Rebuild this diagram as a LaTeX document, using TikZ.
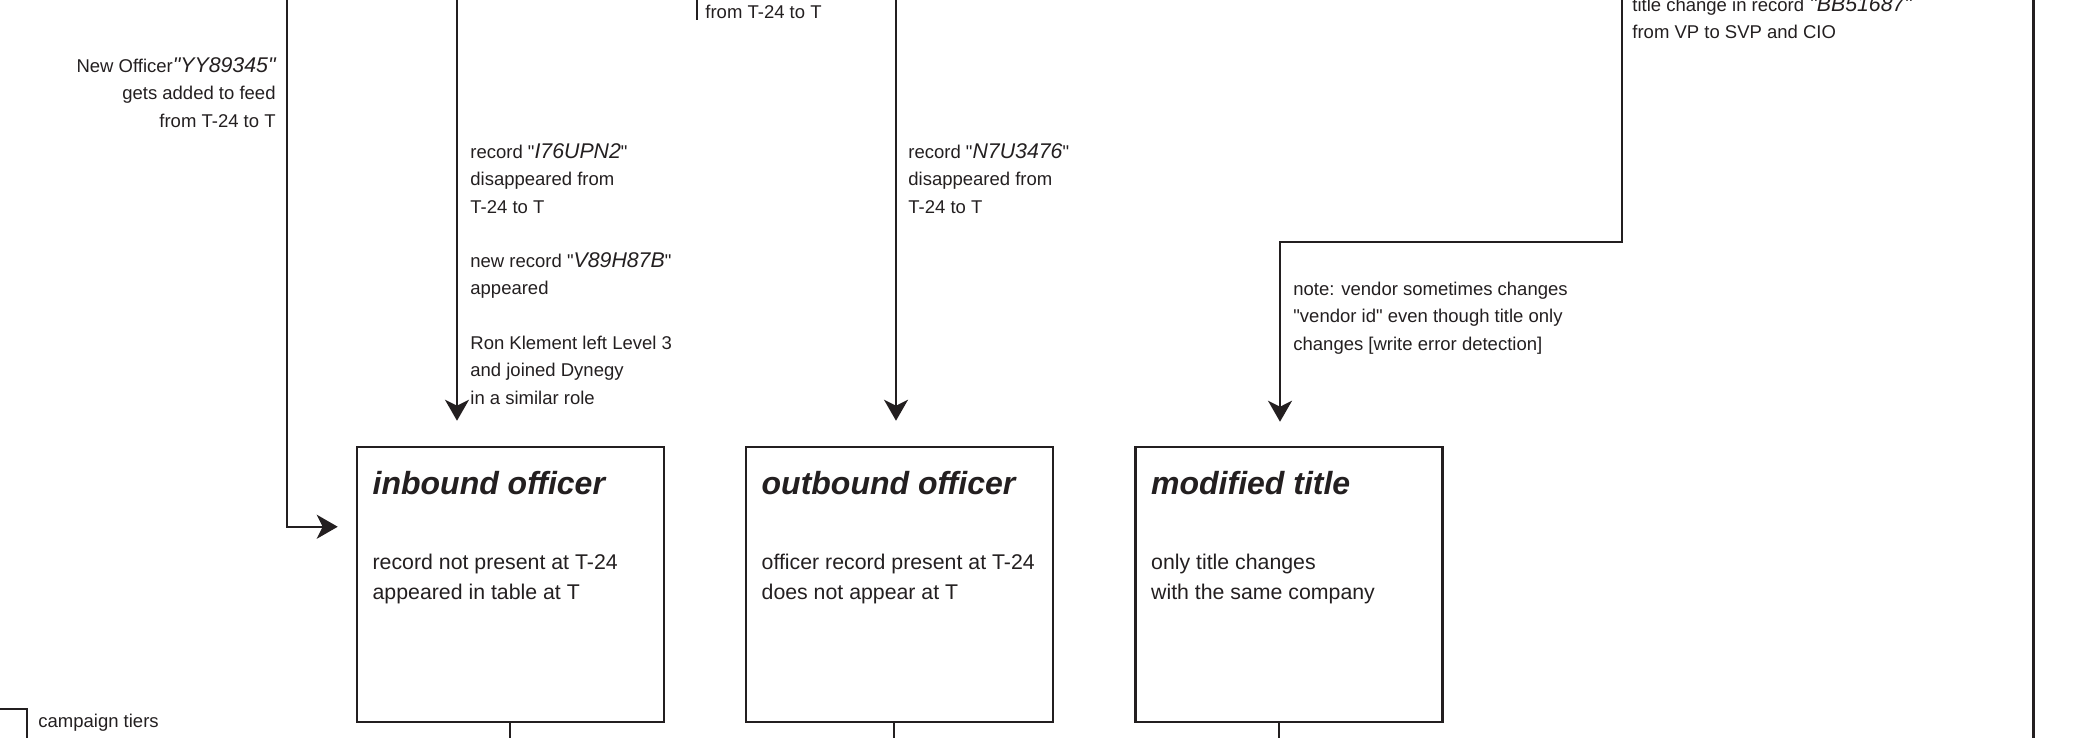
\documentclass[tikz,border=0pt]{standalone}
\usepackage{fontspec}
\setmainfont{Liberation Sans}[Ligatures=TeXOff]
\usetikzlibrary{arrows.meta,calc}
\definecolor{ink}{RGB}{35,31,32}
\tikzset{
    box/.style={draw=ink,line width=1.25pt,minimum width=153.5pt,minimum height=137.5pt,inner sep=0pt},
    feed/.style={draw=ink,line width=1pt},
    into/.style={feed,-{Stealth[length=10.5pt,width=12pt,inset=3pt]}},
    note/.style={font=\fontsize{9.25}{13.65}\selectfont,text=ink,inner sep=0pt,align=left,anchor=base west},
    boxtitle/.style={font=\fontsize{16}{19}\selectfont\bfseries\itshape,text=ink,inner sep=0pt,anchor=base west},
    boxtext/.style={font=\fontsize{10.65}{15}\selectfont,text=ink,inner sep=0pt,align=left,anchor=base west},
  }
\newcommand{\recid}[1]{{\fontsize{10.65}{13.65}\selectfont\itshape #1}}
\begin{document}
\begin{tikzpicture}[x=0.5pt,y=-0.5pt]
				  \useasboundingbox (0,0) rectangle (2075,738);
				  %boxes
				  \node[box] (inbound) at (510.5,584.5) {};
				  \node[box] (outbound) at (899.5,584.5) {};
				  \node[box] (modified) at (1289,584.5) {};
				  %multi-line texts sit on the baseline of their last line
				  \node[boxtitle] (inboundT) at ($(inbound.north west)+(16.5,49)$) {inbound officer};
				  \node[boxtext] (inboundB) at ($(inbound.north west)+(16.5,154)$) {record not present at T-24\\appeared in table at T};
				  \node[boxtitle] (outboundT) at ($(outbound.north west)+(16.5,49)$) {outbound officer};
				  \node[boxtext] (outboundB) at ($(outbound.north west)+(16.5,154)$) {officer record present at T-24\\does not appear at T};
				  \node[boxtitle] (modifiedT) at ($(modified.north west)+(16.5,49)$) {modified title};
				  \node[boxtext] (modifiedB) at ($(modified.north west)+(16.5,154)$) {only title changes\\with the same company};
				  %feeds coming from above
				  \coordinate (feedA) at (287,0);
				  \coordinate (feedB) at (457,0);
				  \coordinate (feedC) at (896,0);
				  \coordinate (feedD) at (1622,0);
				  \coordinate (bend) at (1280,242);
				  \coordinate (inboundIn) at ($(inbound.north west)+(0,81)$);
				  \draw[into,shorten >=9pt] (feedA) |- (inboundIn);
				  \draw[into,shorten >=12.5pt] (feedB) -- (feedB |- inbound.north);
				  \draw[into,shorten >=12.5pt] (feedC) -- (feedC |- outbound.north);
				  \draw[into,shorten >=12pt] (feedD) |- (bend) -- (bend |- modified.north);
				  %stubs going below
				  \coordinate (outA) at (510,738);
				  \coordinate (outB) at (894,738);
				  \coordinate (outC) at (1279,738);
				  \draw[feed] (outA |- inbound.south) -- (outA);
				  \draw[feed] (outB |- outbound.south) -- (outB);
				  \draw[feed] (outC |- modified.south) -- (outC);
				  %right edge
				  \coordinate (edgeT) at (2033,0);
				  \coordinate (edgeB) at (2033,738);
				  \draw[feed,line width=1.5pt] (edgeT) -- (edgeB);
				  %top bar
				  \coordinate (barT) at (697,0);
				  \coordinate (barB) at (697,20);
				  \draw[feed] (barT) -- (barB);
				  \node[note] (topnote) at (705,18.3) {from T-24 to T};
				  %campaign tiers
				  \coordinate (tierA) at (0,709);
				  \coordinate (tierB) at (27,738);
				  \draw[feed] (tierA) -| (tierB);
				  \node[note] (tiers) at (38,727) {campaign tiers};
				  %notes
				  \node[note,anchor=base east,align=right] (newofficer) at (276,127) {New Officer\recid{"YY89345"}\\gets added to feed\\from T-24 to T};
				  \node[note] (inboundnote) at (470,404.1) {record "\recid{I76UPN2}"\\disappeared from\\T-24 to T\\[13.65pt]new record "\recid{V89H87B}"\\appeared\\[13.65pt]Ron Klement left Level 3\\and joined Dynegy\\in a similar role};
				  \node[note] (outboundnote) at (908,213) {record "\recid{N7U3476}"\\disappeared from\\T-24 to T};
				  \node[note] (vendornote) at (1293,350) {note: vendor sometimes changes\\"vendor id" even though title only\\changes [write error detection]};
				  \node[note] (titlenote) at (1632,38.5) {title change in record \recid{"BB51687"}\\from VP to SVP and CIO};
				  \end{tikzpicture}
\end{document}
